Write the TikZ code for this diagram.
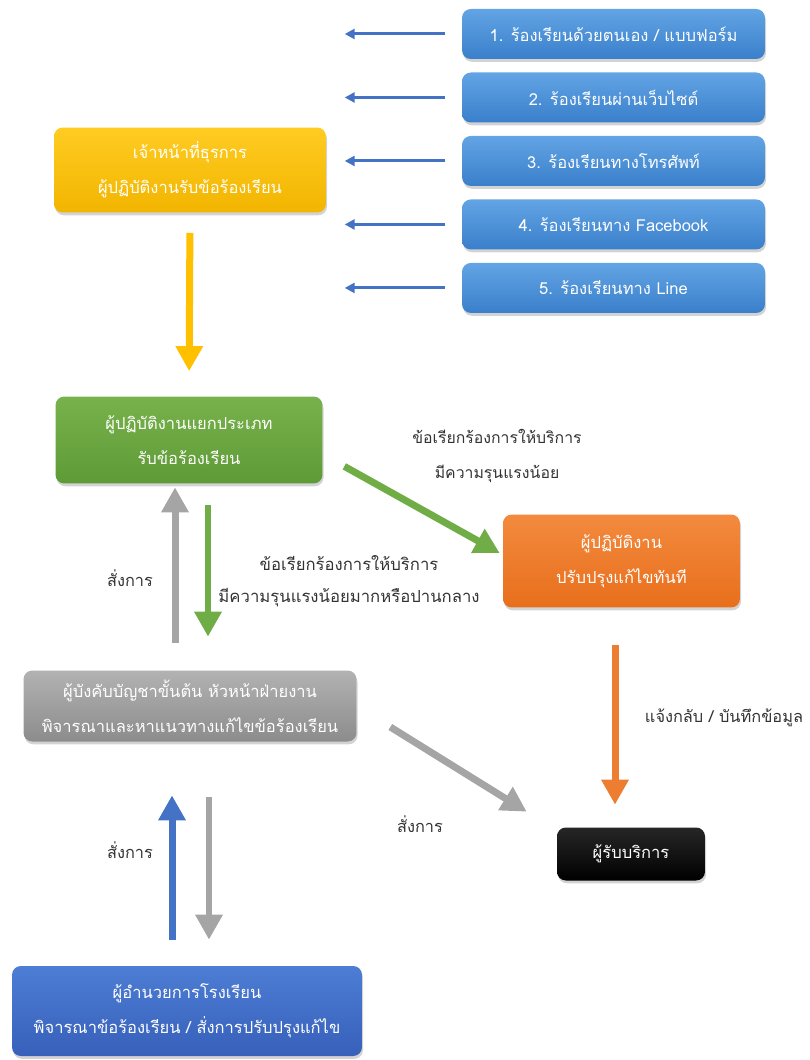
\documentclass[tikz,border=0pt]{standalone}
\usepackage{fontspec}
\usepackage{tikz}
\usetikzlibrary{arrows.meta,shadows,positioning}
\newfontfamily\thaifont[Script=Thai]{Loma}

\definecolor{chanT}{HTML}{62A4E4}
\definecolor{chanB}{HTML}{3A7FCB}
\definecolor{ylwT}{HTML}{FFCC22}
\definecolor{ylwB}{HTML}{F2B500}
\definecolor{grnT}{HTML}{77B24C}
\definecolor{grnB}{HTML}{5E9A36}
\definecolor{orgT}{HTML}{F38A3E}
\definecolor{orgB}{HTML}{E86F1C}
\definecolor{gryT}{HTML}{B2B2B2}
\definecolor{gryB}{HTML}{8C8C8C}
\definecolor{dirT}{HTML}{4D7DD4}
\definecolor{dirB}{HTML}{3760BA}
\definecolor{lineblue}{HTML}{4472C4}
\definecolor{ylwc}{HTML}{FFC000}
\definecolor{grnc}{HTML}{70AD47}
\definecolor{gryc}{HTML}{A5A5A5}
\definecolor{orgc}{HTML}{ED7D31}

\begin{document}
\begin{tikzpicture}[x=0.02cm, y=-0.02cm, node distance=1.27cm,
    panel/.style={rectangle, rounded corners=5pt, align=center, text=white,
                  font=\thaifont\fontsize{9.4}{20}\selectfont,
                  drop shadow={opacity=0.35, shadow xshift=0.6pt, shadow yshift=-1.6pt}},
    chan/.style={panel, top color=chanT, bottom color=chanB,
                 minimum width=6.06cm, minimum height=1cm},
    lbl/.style={align=center, text=black!80, font=\thaifont\fontsize{9.3}{20}\selectfont},
    fat/.style={line width=0.14cm, -{Triangle[width=0.52cm, length=0.5cm]}},
    slim/.style={line width=0.06cm, draw=lineblue, -{Triangle[width=0.2cm, length=0.2cm]}}]
  \useasboundingbox (0,0) rectangle (809,1060);

  \node[chan] (c1) at (613.5,34) {1. ร้องเรียนด้วยตนเอง / แบบฟอร์ม};
  \node[chan] (c2) [below of=c1] {2. ร้องเรียนผ่านเว็บไซต์};
  \node[chan] (c3) [below of=c2] {3. ร้องเรียนทางโทรศัพท์};
  \node[chan] (c4) [below of=c3] {4. ร้องเรียนทาง Facebook};
  \node[chan] (c5) [below of=c4] {5. ร้องเรียนทาง Line};

  \node[panel, top color=ylwT, bottom color=ylwB, minimum width=5.44cm, minimum height=1.7cm]
        (yel) at (190,170) {เจ้าหน้าที่ธุรการ\\ผู้ปฏิบัติงานรับข้อร้องเรียน};
  \node[panel, top color=grnT, bottom color=grnB, minimum width=5.34cm, minimum height=1.74cm]
        (grn) at (189,440) {ผู้ปฏิบัติงานแยกประเภท\\รับข้อร้องเรียน};
  \node[panel, top color=orgT, bottom color=orgB, minimum width=4.74cm, minimum height=1.86cm]
        (org) at (621.5,561) {ผู้ปฏิบัติงาน\\ปรับปรุงแก้ไขทันที};
  \node[panel, top color=gryT, bottom color=gryB, minimum width=6.66cm, minimum height=1.42cm]
        (gry) at (190,706) {ผู้บังคับบัญชาขั้นต้น หัวหน้าฝ่ายงาน\\พิจารณาและหาแนวทางแก้ไขข้อร้องเรียน};
  \node[panel, top color=black!85, bottom color=black, minimum width=2.96cm, minimum height=1.06cm]
        (blk) at (631,854) {ผู้รับบริการ};
  \node[panel, top color=dirT, bottom color=dirB, minimum width=7cm, minimum height=1.8cm]
        (dir) at (187,1011) {ผู้อำนวยการโรงเรียน\\พิจารณาข้อร้องเรียน / สั่งการปรับปรุงแก้ไข};

  \node[lbl, font=\thaifont\fontsize{9}{20.4}\selectfont] (l1) at (497,456)
        {ข้อเรียกร้องการให้บริการ\\มีความรุนแรงน้อย};
  \node[lbl, font=\thaifont\fontsize{9.5}{18}\selectfont] (l2) at (349,581)
        {ข้อเรียกร้องการให้บริการ\\มีความรุนแรงน้อยมากหรือปานกลาง};
  \node[lbl] (s1) at (130,578) {สั่งการ};
  \node[lbl] (s2) at (420,824) {สั่งการ};
  \node[lbl] (s3) at (130,850) {สั่งการ};
  \node[lbl] (fb) at (724,718) {แจ้งกลับ / บันทึกข้อมูล};

  \foreach \c in {c1,c2,c3,c4,c5}
    \draw[slim] ([xshift=-0.34cm]\c.west) -- ([xshift=-2.34cm]\c.west);

  \draw[fat, draw=ylwc, shorten <=0.4cm, shorten >=0.5cm] (yel.south) -- (grn.north);
  \draw[fat, draw=grnc, shorten <=0.43cm, shorten >=0.67cm]
        ([xshift=0.38cm]grn.south) -- ([xshift=0.38cm]grn.south |- gry.north);
  \draw[fat, draw=gryc, shorten <=0.55cm, shorten >=0.07cm]
        ([xshift=-0.3cm]gry.north) -- ([xshift=-0.3cm]gry.north |- grn.south);
  \draw[fat, draw=grnc] ([xshift=0.43cm,yshift=0.35cm]grn.south east)
        -- ([xshift=-0.06cm,yshift=0.16cm]org.west);
  \draw[fat, draw=orgc, shorten <=0.75cm, shorten >=0.45cm]
        ([xshift=-0.13cm]org.south) -- ([xshift=-0.13cm]org.south |- blk.north);
  \draw[fat, draw=gryc] ([xshift=0.67cm,yshift=-0.42cm]gry.east)
        -- ([xshift=-0.6cm,yshift=0.31cm]blk.north west);
  \draw[fat, draw=lineblue, shorten <=0.52cm, shorten >=1.07cm]
        ([xshift=-0.3cm]dir.north) -- ([xshift=-0.3cm]dir.north |- gry.south);
  \draw[fat, draw=gryc, shorten <=1.11cm, shorten >=0.52cm]
        ([xshift=0.38cm]gry.south) -- ([xshift=0.38cm]gry.south |- dir.north);
\end{tikzpicture}
\end{document}
